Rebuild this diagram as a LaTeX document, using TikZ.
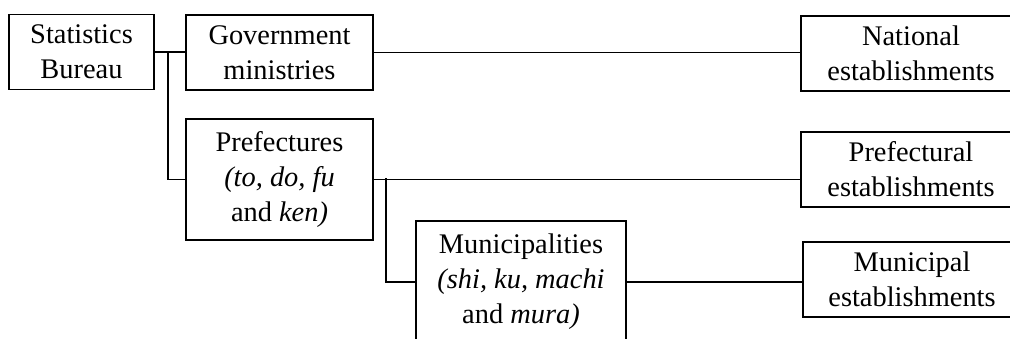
\documentclass[tikz,border=0pt]{standalone}
\usepackage{fontspec}
\setmainfont{Liberation Serif}
\begin{document}
\begin{tikzpicture}[x=0.5pt,y=-0.5pt,
    box/.style={draw,line width=0.9pt,align=center,inner sep=0pt,
      font=\fontsize{14.2pt}{17.5pt}\selectfont},
    short/.style={box,minimum height=37.5pt}]
      \useasboundingbox (0,0) rectangle (1010,338);
      \clip (0,0) rectangle (1010,338);
      \draw
        (81.5,52) node[short,minimum width=72.5pt] (bureau){Statistics\\Bureau}
        (279.5,52.5) node[short,minimum width=93.5pt] (gov){Government\\ministries}
        (279.5,179.5) node[box,minimum width=93.5pt,minimum height=60.5pt] (pref){Prefectures\\\textit{(to, do, fu}\\and \textit{ken)}}
        (521,282) node[box,minimum width=105pt,minimum height=61pt] (muni){Municipalities\\\textit{(shi, ku, machi}\\and \textit{mura)}}
        (911,53.5) node[short,minimum width=110pt] (nat){National\\establishments}
        (911,169.5) node[short,minimum width=110pt] (prefest){Prefectural\\establishments}
        (912,279.5) node[short,minimum width=109pt] (muniest){Municipal\\establishments};
      \coordinate (split1) at (168,52);
      \coordinate (split2) at (386,178);
      \begin{scope}[line width=0.9pt]
        \draw (bureau.east) -- (gov.west |- bureau.east);
        \draw (split1) |- (pref.west);
        \draw (gov.east) -- (nat.west |- gov.east);
        \draw (pref.east) -- (prefest.west |- pref.east);
        \draw (split2) |- (muni.west);
        \draw (muni.east) -- (muniest.west |- muni.east);
      \end{scope}
    \end{tikzpicture}
\end{document}
